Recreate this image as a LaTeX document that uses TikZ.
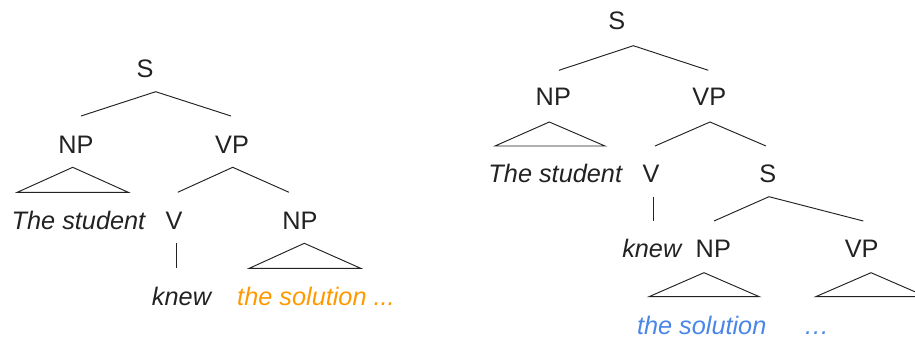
\documentclass[tikz,border=0pt]{standalone}
\usepackage{fontspec}
\setmainfont{Liberation Sans}
\definecolor{ink}{HTML}{222222}
\definecolor{solorange}{HTML}{FF9900}
\definecolor{solblue}{HTML}{4A86E8}
\begin{document}
\begin{tikzpicture}[x=1pt,y=-1pt,
  lbl/.style={anchor=base,inner sep=0pt,text=ink,font=\fontsize{25.3}{30}\selectfont},
  word/.style={lbl,font=\fontsize{25.3}{30}\selectfont\itshape},
  branch/.style={draw=ink,line width=0.95pt},
  roof/.style={draw=ink,line width=0.95pt,line join=miter}]
\useasboundingbox (0,0) rectangle (915,340);
\clip (0,0) rectangle (915,340);

% ---------- first tree ----------
\node[lbl]  (s1)   at (145,77)   {S};
\node[lbl]  (np1)  at (76,153)   {NP};
\node[lbl]  (vp1)  at (232,153)  {VP};
\node[word] (ts1)  at (78.5,229) {The student};
\node[lbl]  (v1)   at (174,229)  {V};
\node[lbl]  (np2)  at (300,229)  {NP};
\node[word] (kn1)  at (181.5,305.5) {knew};
\node[word,text=solorange] (sol1) at (316,305.5) {the solution ...};

\coordinate (s1a) at (155.7,91.7);
\coordinate (s1l) at (81,116);
\coordinate (s1r) at (231,116);
\draw[branch] (s1l) -- (s1a) -- (s1r);

\coordinate (vp1a) at (232.7,167.3);
\coordinate (vp1l) at (177.7,192.3);
\coordinate (vp1r) at (289,192.3);
\draw[branch] (vp1l) -- (vp1a) -- (vp1r);

\coordinate (v1t) at (176,243);
\coordinate (v1b) at (176,268);
\draw[branch] (v1t) -- (v1b);

\coordinate (np1a) at (72.7,167.3);
\coordinate (np1l) at (17.3,192.3);
\coordinate (np1r) at (128.3,192.3);
\draw[roof] (np1a) -- (np1r) -- (np1l) -- cycle;

\coordinate (np2a) at (304.3,243.3);
\coordinate (np2l) at (249.3,268.3);
\coordinate (np2r) at (360.7,268.3);
\draw[roof] (np2a) -- (np2r) -- (np2l) -- cycle;

% ---------- second tree ----------
\node[lbl]  (s2)   at (616.7,29)  {S};
\node[lbl]  (np3)  at (553.3,105.7) {NP};
\node[lbl]  (vp2)  at (709.3,105.7) {VP};
\node[word] (ts2)  at (555.3,182.3) {The student};
\node[lbl]  (v2)   at (651,182.3)  {V};
\node[lbl]  (s3)   at (767.7,182.3) {S};
\node[word] (kn2)  at (651.8,257.3) {knew};
\node[lbl]  (np4)  at (713.3,257.3) {NP};
\node[lbl]  (vp3)  at (861.7,257.3) {VP};
\node[word,text=solblue] (sol2) at (701.7,334) {the solution};
\node[word,text=solblue] (dots) at (816.5,334) {…};

\coordinate (s2a) at (633.3,45.7);
\coordinate (s2l) at (559,70.3);
\coordinate (s2r) at (708.3,70.3);
\draw[branch] (s2l) -- (s2a) -- (s2r);

\coordinate (vp2a) at (710,122);
\coordinate (vp2l) at (655,146);
\coordinate (vp2r) at (766,146);
\draw[branch] (vp2l) -- (vp2a) -- (vp2r);

\coordinate (v2t) at (653.3,196.7);
\coordinate (v2b) at (653.3,221);
\draw[branch] (v2t) -- (v2b);

\coordinate (s3a) at (769,196.7);
\coordinate (s3l) at (714,221);
\coordinate (s3r) at (863.3,221);
\draw[branch] (s3l) -- (s3a) -- (s3r);

\coordinate (np3a) at (549.3,122);
\coordinate (np3l) at (495,146);
\coordinate (np3r) at (605,146);
\draw[roof] (np3a) -- (np3r) -- (np3l) -- cycle;

\coordinate (np4a) at (704,272.7);
\coordinate (np4l) at (649,296.7);
\coordinate (np4r) at (759.3,296.7);
\draw[roof] (np4a) -- (np4r) -- (np4l) -- cycle;

\coordinate (vp3a) at (871,272.7);
\coordinate (vp3l) at (815.7,296.7);
\coordinate (vp3r) at (926.3,296.7);
\draw[roof] (vp3a) -- (vp3r) -- (vp3l) -- cycle;
\end{tikzpicture}
\end{document}
